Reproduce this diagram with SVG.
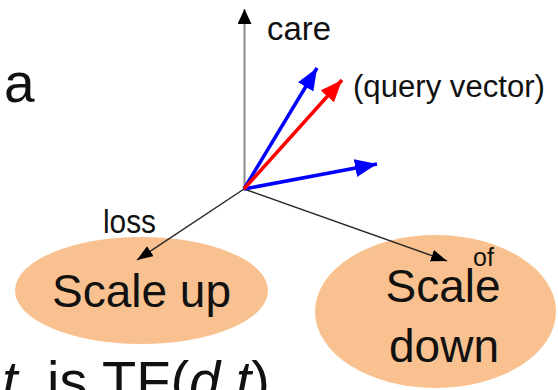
<svg xmlns="http://www.w3.org/2000/svg" width="558" height="390" viewBox="0 0 558 390">
  <style>
    text { font-family: "Liberation Sans", Arial, sans-serif; fill: #111; }
    .node { fill: #F9C18F; }
    .label { font-size: 46px; text-anchor: middle; }
    .axis { stroke: #8a8a8a; stroke-width: 2; fill: none; }
    .dim { stroke: #2a2a2a; stroke-width: 1.5; fill: none; }
    .doc { stroke: #0000FF; stroke-width: 3.5; fill: none; }
    .query { stroke: #FF0000; stroke-width: 3.5; fill: none; }
    .it { font-style: italic; }
  </style>
  <defs>
    <marker id="headAxis" markerUnits="userSpaceOnUse" markerWidth="15" markerHeight="15" refX="15" refY="7" orient="auto">
      <path d="M0,0 L15,7 L0,14 z" fill="#000"/>
    </marker>
    <marker id="headDim" markerUnits="userSpaceOnUse" markerWidth="16" markerHeight="12" refX="16" refY="6" orient="auto">
      <path d="M0,0 L16,6 L0,12 z" fill="#000"/>
    </marker>
    <marker id="headBlue" markerUnits="userSpaceOnUse" markerWidth="22" markerHeight="18" refX="22" refY="9" orient="auto">
      <path d="M0,0 L22,9 L0,18 z" fill="#0000FF"/>
    </marker>
    <marker id="headRed" markerUnits="userSpaceOnUse" markerWidth="22" markerHeight="18" refX="22" refY="9" orient="auto">
      <path d="M0,0 L22,9 L0,18 z" fill="#FF0000"/>
    </marker>
  </defs>

  <!-- leftover word from the surrounding sentence -->
  <text x="4" y="102" font-size="55">a</text>

  <!-- term-space nodes -->
  <g id="scale-up">
    <ellipse class="node" cx="141.5" cy="290.5" rx="126.5" ry="53.5"/>
    <text class="label" x="141.5" y="307">Scale up</text>
  </g>
  <g id="scale-down">
    <ellipse class="node" cx="435.5" cy="311.5" rx="120.5" ry="76.5"/>
    <text class="label" x="443" y="302" font-size="47">Scale</text>
    <text class="label" x="444" y="362" font-size="47">down</text>
  </g>

  <!-- axes and vectors from the origin -->
  <g id="connectors">
    <line class="axis" x1="244.5" y1="189" x2="244.5" y2="9" marker-end="url(#headAxis)"/>
    <line class="dim" x1="244" y1="189" x2="137" y2="260" marker-end="url(#headDim)"/>
    <line class="dim" x1="244" y1="189" x2="447" y2="261" marker-end="url(#headDim)"/>
    <line class="doc" x1="244" y1="189" x2="317" y2="68" marker-end="url(#headBlue)"/>
    <line class="doc" x1="244" y1="189" x2="377" y2="164" marker-end="url(#headBlue)"/>
    <line class="query" x1="244" y1="189" x2="342" y2="80" marker-end="url(#headRed)"/>
  </g>

  <!-- axis labels -->
  <g id="axis-labels">
    <text x="267" y="40" font-size="34" textLength="64" lengthAdjust="spacingAndGlyphs">care</text>
    <text x="353" y="97" font-size="31" textLength="192" lengthAdjust="spacingAndGlyphs">(query vector)</text>
    <text x="103" y="233" font-size="34" textLength="53" lengthAdjust="spacingAndGlyphs">loss</text>
    <text x="473" y="266" font-size="25">of</text>
  </g>

  <!-- formula line, running off the bottom edge -->
  <text x="2" y="400" font-size="56"><tspan class="it">t</tspan><tspan x="47">is TF(</tspan><tspan class="it">d</tspan>,<tspan class="it">t</tspan>)</text>
</svg>
